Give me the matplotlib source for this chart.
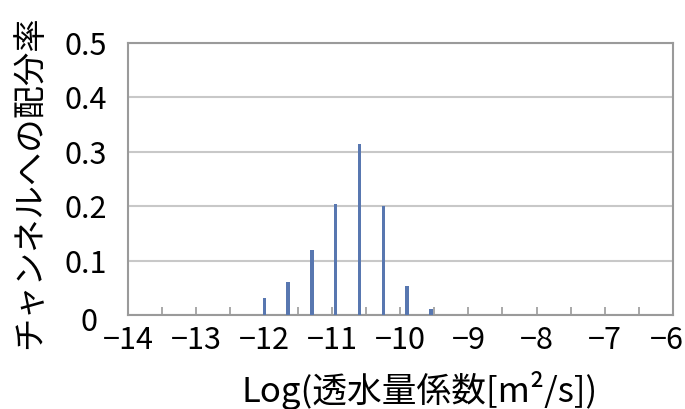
import matplotlib
matplotlib.use('Agg')
import matplotlib.pyplot as plt
from matplotlib.ticker import FixedLocator, FuncFormatter, MultipleLocator
from matplotlib.transforms import ScaledTranslation

plt.rcParams['font.family'] = ['Noto Sans CJK JP', 'DejaVu Sans']

# ─── Data ────────────────────────────────────────────────────────────────────
log_k = [-12.0, -11.65, -11.3, -10.95, -10.6, -10.25, -9.9, -9.55]
ratio = [0.031, 0.061, 0.119, 0.204, 0.314, 0.200, 0.053, 0.011]

x_ticks = [-14, -13, -12, -11, -10, -9, -8, -7, -6]
y_ticks = [0, 0.1, 0.2, 0.3, 0.4, 0.5]

BAR   = "#5877b0"
GRID  = "#c8c8c8"
FRAME = "#9a9a9a"

fig = plt.figure(figsize=(6.85, 4.09), dpi=100)
fig.patch.set_facecolor("white")
ax = fig.add_axes([0.187, 0.230, 0.795, 0.665])

ax.bar(log_k, ratio, width=0.05, color=BAR, edgecolor="none", zorder=3)

ax.set_xlim(-14, -6)
ax.set_ylim(0, 0.5)

ax.xaxis.set_major_locator(FixedLocator(x_ticks))
ax.xaxis.set_minor_locator(MultipleLocator(0.5))
ax.xaxis.set_major_formatter(FuncFormatter(lambda v, p: f"\u2212{abs(int(v))}"))
ax.yaxis.set_major_locator(FixedLocator(y_ticks))
ax.yaxis.set_major_formatter(FuncFormatter(lambda v, p: f"{v:g}"))

ax.grid(axis="y", color=GRID, linewidth=1.5, zorder=0)
for s in ax.spines.values():
    s.set_color(FRAME)
    s.set_linewidth(1.5)

ax.tick_params(axis="x", which="both", direction="in", length=6, width=1.2,
               color=FRAME, labelsize=22, pad=7)
ax.tick_params(axis="y", which="both", length=0, labelsize=22, pad=15)

# nudges: "0" sits further left like the original, last x label kept on canvas
def nudge(lbl, dx_px, dy_px=0):
    lbl.set_transform(lbl.get_transform()
                      + ScaledTranslation(dx_px / 100, dy_px / 100, fig.dpi_scale_trans))

nudge(ax.get_xticklabels()[-1], -6)
nudge(ax.get_yticklabels()[0], -10, -4)

ax.set_ylabel("チャンネルへの配分率", fontsize=24, labelpad=16)
ax.yaxis.set_label_coords(-0.148, 0.49)
fig.text(420 / 685, 1 - 391 / 409, "Log(透水量係数[m²/s])",
         fontsize=25, ha="center", va="center")

fig.savefig("out.png", dpi=100, facecolor="white")
